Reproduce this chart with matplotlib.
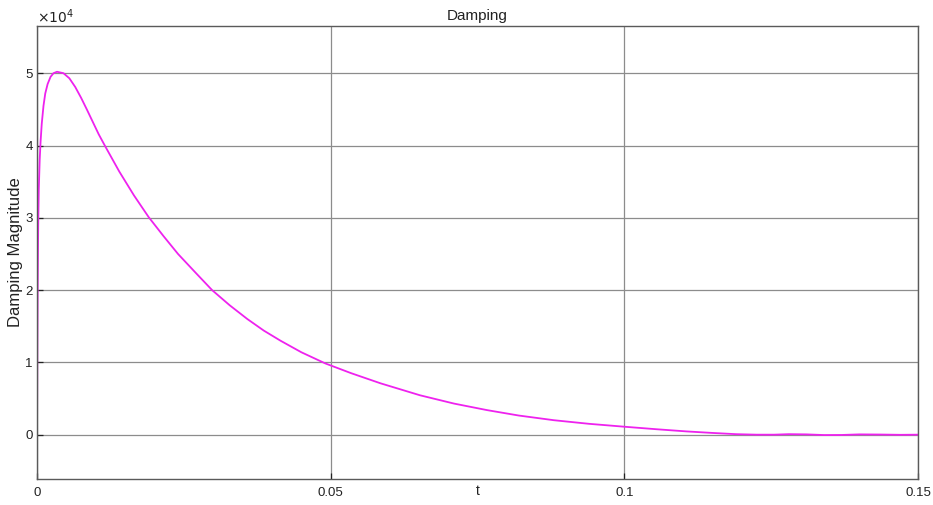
import matplotlib.pyplot as plt

plt.rcParams['font.family'] = ['Liberation Sans', 'DejaVu Sans']

# damping curve (t in s, magnitude in units of 1e4)
t = [0.0, 0.00005, 0.0001, 0.0002, 0.0003, 0.00045, 0.0006, 0.0008, 0.0011,
     0.0014, 0.0018, 0.0023, 0.0028, 0.0034, 0.0045, 0.0055, 0.0065,
     0.0075, 0.0085, 0.0095, 0.0105, 0.0116, 0.014, 0.0165, 0.019, 0.0215,
     0.024, 0.027, 0.0298, 0.0328, 0.0358, 0.0386, 0.04145, 0.045, 0.0491,
     0.0535, 0.0585, 0.0652, 0.071, 0.0766, 0.082, 0.088, 0.094, 0.1,
     0.1055, 0.1106, 0.115, 0.119, 0.1225, 0.1255, 0.128, 0.131, 0.134,
     0.137, 0.14, 0.1435, 0.147, 0.15]
damp = [0.0, 1.2, 2.0, 2.9, 3.4, 3.8, 4.05, 4.3, 4.55,
        4.72, 4.85, 4.95, 5.0, 5.02, 5.0, 4.93, 4.81,
        4.66, 4.495, 4.325, 4.155, 3.99, 3.64, 3.31, 3.01, 2.75,
        2.5, 2.24, 2.0, 1.79, 1.6, 1.44, 1.3, 1.14, 0.985,
        0.85, 0.71, 0.545, 0.43, 0.34, 0.265, 0.2, 0.15, 0.11,
        0.075, 0.045, 0.024, 0.007, 0.0, 0.0, 0.007, 0.004, -0.005,
        -0.004, 0.004, 0.002, -0.002, 0.0]
damp = [v * 1e4 for v in damp]

xticks = [0, 0.05, 0.1, 0.15]
xticklabels = ['0', '0.05', '0.1', '0.15']
yticks = [0, 1e4, 2e4, 3e4, 4e4, 5e4]
yticklabels = ['0', '1', '2', '3', '4', '5']

fig = plt.figure(figsize=(9.33, 5.05), dpi=100)
ax = fig.add_axes([0.0397, 0.0515, 0.9443, 0.897])

ax.plot(t, damp, color='#ee22ee', linewidth=1.3)

ax.set_xlim(0, 0.15)
ax.set_ylim(-0.613e4, 5.653e4)
ax.set_xticks(xticks)
ax.set_xticklabels(xticklabels)
ax.set_yticks(yticks)
ax.set_yticklabels(yticklabels)

ax.grid(True, color='#8c8c8c', linewidth=0.9)
ax.set_axisbelow(True)
for s in ax.spines.values():
    s.set_color('#5a5a5a')
    s.set_linewidth(1.0)
ax.tick_params(direction='in', length=4, width=0.9, colors='#222222',
               labelsize=9.5, pad=3)
ax.tick_params(axis='x', pad=6)

ax.set_title('Damping', fontsize=11, color='#222222', pad=4)
ax.set_xlabel('t', fontsize=10, color='#222222', labelpad=-11)
ax.set_ylabel('Damping Magnitude', fontsize=12, color='#222222', labelpad=2)
ax.text(0.0, 1.0, r'$\times10^4$', transform=ax.transAxes, fontsize=10,
        color='#222222', ha='left', va='bottom')

fig.savefig('out.png', dpi=100)
